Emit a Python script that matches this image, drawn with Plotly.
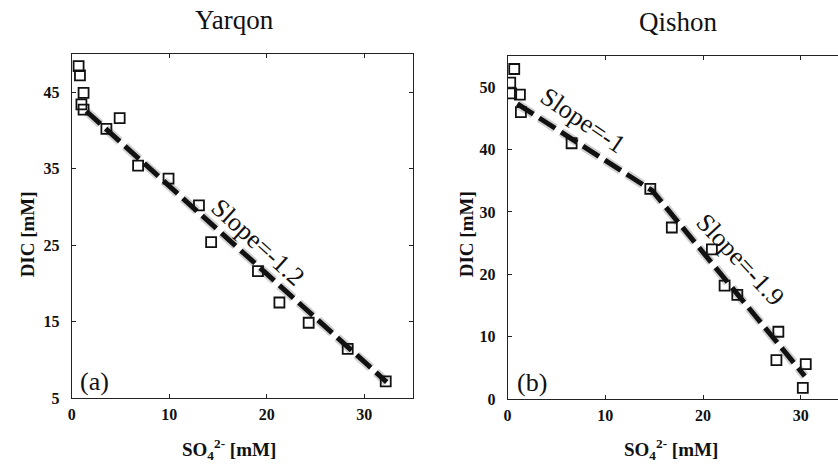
import plotly.graph_objects as go

# ---- Data ----
yarqon_so4 = [0.71, 0.85, 1.22, 1.0, 1.22, 3.56, 4.92, 6.81, 9.93, 13.05, 14.3, 19.1, 21.3, 24.3, 28.3, 32.2]
yarqon_dic = [48.4, 47.2, 44.9, 43.4, 42.7, 40.2, 41.6, 35.4, 33.7, 30.2, 25.4, 21.6, 17.5, 14.85, 11.45, 7.2]
yarqon_fit_x = [1.5, 32.3]
yarqon_fit_y = [42.5, 7.1]

qishon_so4 = [0.68, 0.27, 0.37, 1.26, 1.36, 6.55, 14.6, 16.8, 20.9, 22.2, 23.5, 27.7, 27.5, 30.5, 30.2]
qishon_dic = [52.9, 50.7, 49.0, 48.8, 46.0, 41.0, 33.7, 27.5, 24.0, 18.2, 16.7, 10.8, 6.25, 5.6, 1.8]
qishon_fit_x = [1.0, 14.8, 30.4]
qishon_fit_y = [47.3, 33.4, 3.7]

xticks = [0, 10, 20, 30]
yticks_a = [5, 15, 25, 35, 45]
yticks_b = [0, 10, 20, 30, 40, 50]

SERIF = "Liberation Serif"
W = 838
H = 457  # effective vertical basis used for paper fractions

def py(pix):
    return 1 - pix / H

fig = go.Figure()

def add_panel(xs, ys, fx, fy, xa, ya):
    fig.add_trace(go.Scatter(x=fx, y=fy, mode="lines", xaxis=xa, yaxis=ya,
                             line=dict(color="rgba(0,0,0,0.18)", width=9, dash="19px,7px"),
                             hoverinfo="skip", showlegend=False))
    fig.add_trace(go.Scatter(x=fx, y=fy, mode="lines", xaxis=xa, yaxis=ya,
                             line=dict(color="#111111", width=5, dash="19px,7px"),
                             showlegend=False))
    fig.add_trace(go.Scatter(x=xs, y=ys, mode="markers", xaxis=xa, yaxis=ya,
                             marker=dict(symbol="square-open", size=10, color="#111111",
                                         line=dict(width=1.8, color="#111111")),
                             showlegend=False))

add_panel(yarqon_so4, yarqon_dic, yarqon_fit_x, yarqon_fit_y, "x", "y")
add_panel(qishon_so4, qishon_dic, qishon_fit_x, qishon_fit_y, "x2", "y2")

tickfont = dict(family=SERIF, size=16, color="#111111", weight="bold")
common = dict(showgrid=False, zeroline=False, showline=True, linecolor="#222222", linewidth=1,
              ticks="inside", ticklen=4, tickwidth=1, tickcolor="#222222", tickfont=tickfont)

fig.update_layout(
    width=838, height=465, autosize=False,
    margin=dict(l=0, r=0, t=0, b=0),
    paper_bgcolor="white", plot_bgcolor="white",
    font=dict(family=SERIF, color="#111111"),
    xaxis=dict(domain=[68/W, 411/W], range=[0, 35], tickvals=xticks, mirror="ticks",
               ticklabelstandoff=2, anchor="y", **common),
    yaxis=dict(domain=[py(399), py(54)], range=[5, 50], tickvals=yticks_a, mirror="ticks",
               ticklabelstandoff=8, anchor="x", **common),
    xaxis2=dict(domain=[506/W, 1.0], range=[0, 33.8], tickvals=xticks, mirror="ticks",
                ticklabelstandoff=2, anchor="y2", **common),
    yaxis2=dict(domain=[py(400), py(56)], range=[0, 55], tickvals=yticks_b, mirror=False,
                ticklabelstandoff=8, anchor="x2", **common),
)

anno_font = dict(family=SERIF, size=26, color="#111111")
title_font = dict(family=SERIF, size=27, color="#111111")
axis_font = dict(family=SERIF, size=19, color="#111111", weight="bold")

annos = [
    dict(text="Yarqon", x=232/W, y=py(20), xref="paper", yref="paper", font=title_font, textangle=0),
    dict(text="Qishon", x=678/W, y=py(22), xref="paper", yref="paper", font=title_font, textangle=0),
    dict(text="DIC [mM]", x=24/W, y=py(235), xref="paper", yref="paper", font=axis_font, textangle=-90),
    dict(text="DIC [mM]", x=465/W, y=py(235), xref="paper", yref="paper", font=axis_font, textangle=-90),
    dict(text="SO<sub>4</sub><sup>2-</sup> [mM]", x=226/W, y=py(450), xref="paper", yref="paper", font=axis_font, textangle=0),
    dict(text="SO<sub>4</sub><sup>2-</sup> [mM]", x=670/W, y=py(450), xref="paper", yref="paper", font=axis_font, textangle=0),
    dict(text="Slope=-1.2", x=19.1, y=25.3, xref="x", yref="y", font=anno_font, textangle=42),
    dict(text="(a)", x=2.3, y=7.2, xref="x", yref="y", font=anno_font, textangle=0),
    dict(text="Slope=-1", x=7.7, y=44.6, xref="x2", yref="y2", font=anno_font, textangle=34),
    dict(text="Slope=-1.9", x=23.8, y=22.4, xref="x2", yref="y2", font=anno_font, textangle=47),
    dict(text="(b)", x=2.45, y=2.6, xref="x2", yref="y2", font=anno_font, textangle=0),
]
for a in annos:
    fig.add_annotation(showarrow=False, xanchor="center", yanchor="middle", **a)

fig.write_html("out.html",
               config={"displayModeBar": False, "responsive": False},
               post_script="document.body.style.margin='0';document.body.style.overflow='hidden';")
